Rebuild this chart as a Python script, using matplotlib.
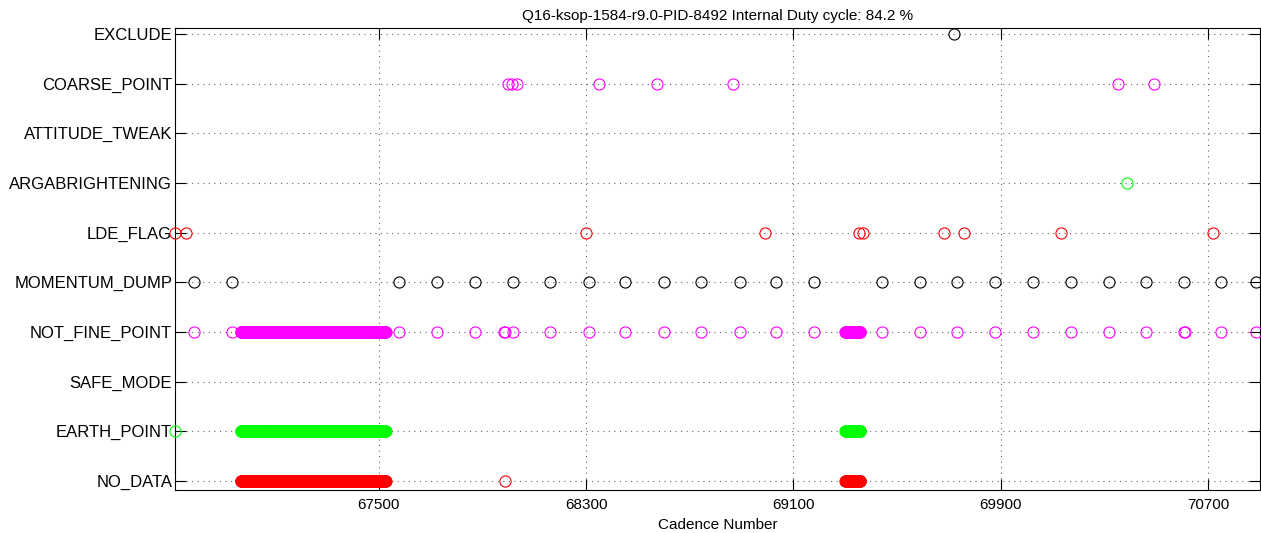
import numpy as np
import matplotlib
matplotlib.use("Agg")
import matplotlib.pyplot as plt

plt.rcParams['font.family'] = ['Liberation Sans', 'DejaVu Sans']

###############################################################################
## Flags (cadence numbers)
flag_names = ['NO_DATA', 'EARTH_POINT', 'SAFE_MODE', 'NOT_FINE_POINT',
              'MOMENTUM_DUMP', 'LDE_FLAG', 'ARGABRIGHTENING', 'ATTITUDE_TWEAK',
              'COARSE_POINT', 'EXCLUDE']

exclude         = [69721]
coarse_point    = [67997, 68013, 68032, 68348, 68572, 68865, 70353, 70492]
attitude_tweak  = []
argabrightening = [70388]
lde_flag        = [66714, 66756, 68298, 68992, 69354, 69370, 69682, 69759,
                   70133, 70719]
momentum_dump   = [66787, 66933, 67577, 67724, 67870, 68017, 68159, 68310,
                   68452, 68599, 68745, 68892, 69034, 69181, 69443, 69590,
                   69732, 69879, 70025, 70172, 70318, 70461, 70607, 70750,
                   70885]
not_fine_point  = [66787, 66933, 67577, 67724, 67870, 67982, 67986, 68017,
                   68159, 68310, 68452, 68599, 68745, 68892, 69034, 69181,
                   69443, 69590, 69732, 69879, 70025, 70172, 70318, 70461,
                   70607, 70610, 70750, 70885]
safe_mode       = []
earth_point     = [66714]
no_data         = [67986]

# continuous runs of flagged cadences (first, last)
gap_runs = [(66968, 67527), (69300, 69358)]

first_cadence = 66714
last_cadence  = 70900
xticks = [67500, 68300, 69100, 69900, 70700]
title = 'Q16-ksop-1584-r9.0-PID-8492 Internal Duty cycle: 84.2 %'
###############################################################################


def expand(singles, runs):
    c = list(singles)
    for a, b in runs:
        c += list(np.arange(a, b + 1))
    return np.array(c, dtype=float)


RED = (1, 0, 0)
GREEN = (0, 1, 0)
MAGENTA = (1, 0, 1)
BLACK = (0, 0, 0)

series = [
    (expand(no_data, gap_runs), RED),
    (expand(earth_point, gap_runs), GREEN),
    (np.array(safe_mode, dtype=float), BLACK),
    (expand(not_fine_point, gap_runs), MAGENTA),
    (np.array(momentum_dump, dtype=float), BLACK),
    (np.array(lde_flag, dtype=float), RED),
    (np.array(argabrightening, dtype=float), GREEN),
    (np.array(attitude_tweak, dtype=float), BLACK),
    (np.array(coarse_point, dtype=float), MAGENTA),
    (np.array(exclude, dtype=float), BLACK),
]

fig = plt.figure(figsize=(12.61, 5.33), dpi=100)
ax = fig.add_axes([175/1261., 1-490/533., 1085/1261., 462/533.])

for i, (cad, col) in enumerate(series):
    if len(cad) == 0:
        continue
    ax.plot(cad, np.full(len(cad), i + 1), 'o', mfc='none', mec=col,
            ms=8, mew=0.8, clip_on=False, zorder=3)

ax.set_xlim(first_cadence, last_cadence)
ax.set_ylim(0.819, 10.12)
ax.set_yticks(range(1, 11))
ax.set_yticklabels(flag_names, fontsize=12)
ax.set_xticks(xticks)
ax.set_xticklabels([str(x) for x in xticks], fontsize=11)
ax.tick_params(axis='x', direction='in', length=8, width=0.8, top=True,
               pad=6)
ax.tick_params(axis='y', direction='in', length=8, width=0.8, right=True,
               pad=2)
ax.grid(True, linestyle=(0, (1, 4)), color='0.4', linewidth=0.8)
for s in ax.spines.values():
    s.set_linewidth(0.8)
ax.set_xlabel('Cadence Number', fontsize=11, labelpad=4)
ax.set_title(title, fontsize=11, pad=6)

fig.savefig('out.png', dpi=100)
